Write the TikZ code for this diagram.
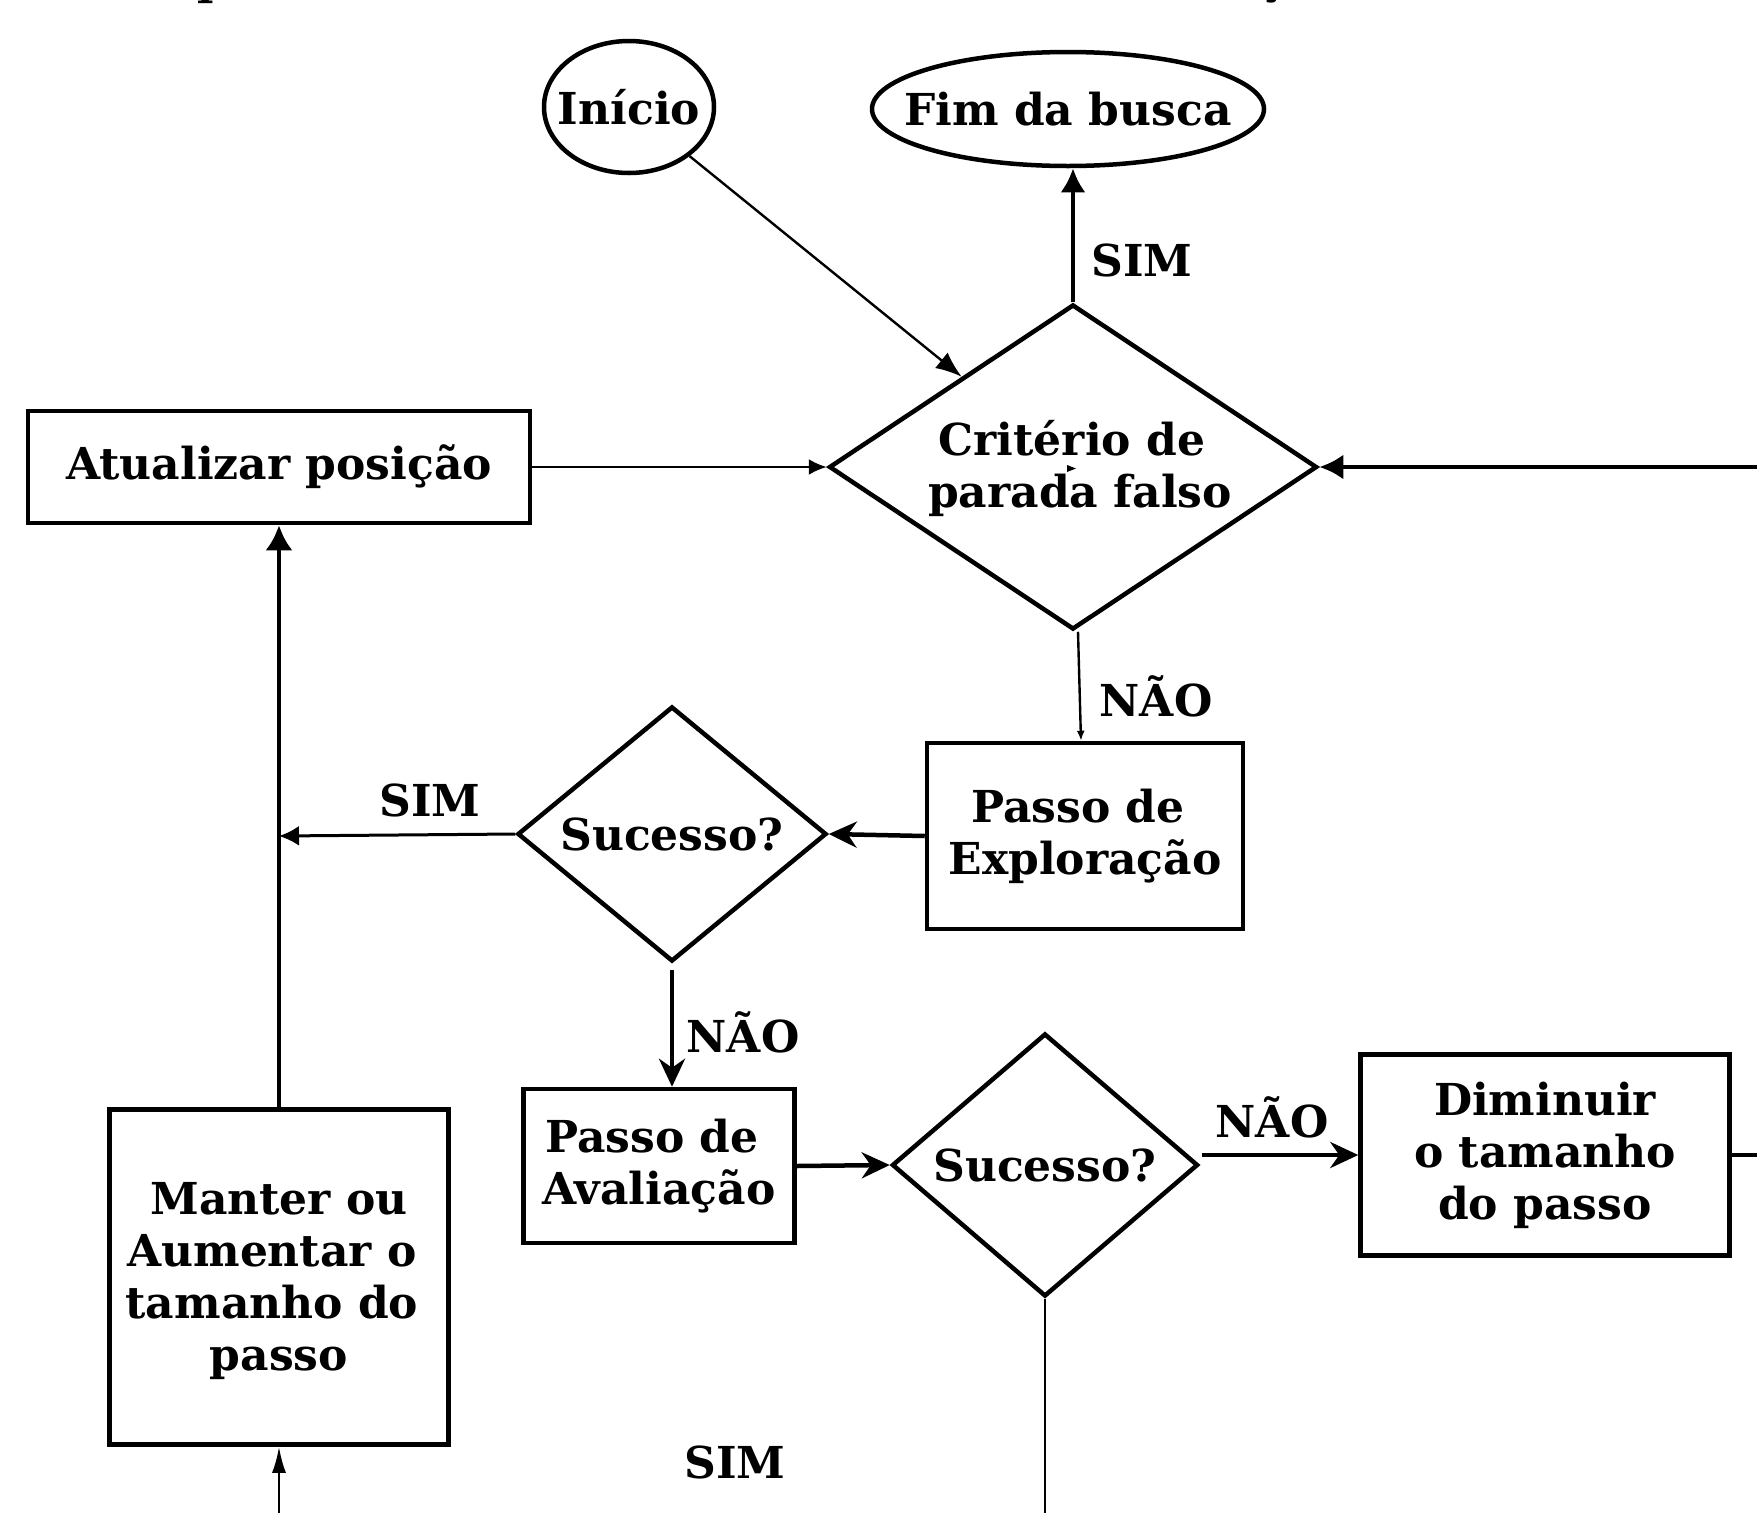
\documentclass[tikz,border=0pt]{standalone}
\usepackage{fontspec}
\setmainfont{DejaVu Serif}
\usetikzlibrary{shapes.geometric,arrows.meta}
\begin{document}
\begin{tikzpicture}[x=1pt,y=-1pt,
  every node/.style={font=\fontsize{44}{52}\selectfont\bfseries},
  txt/.style={inner sep=0pt, align=center},
  lbl/.style={inner sep=0pt},
  box/.style={draw, line width=4.5pt, rectangle, inner sep=0pt, align=center},
  dia/.style={draw, line width=4.5pt, diamond, inner sep=0pt},
  ell/.style={draw, line width=4.5pt, ellipse, inner sep=0pt},
  thk/.style={line width=4.5pt},
  med/.style={line width=3pt},
  thn/.style={line width=2.4pt},
  lat/.style={-{Latex[length=24pt,width=25pt]}},
  stl/.style={-{Stealth[length=28pt,width=26pt,inset=9pt]}}
]
\useasboundingbox (0,0) rectangle (1757,1513);
\clip (0,0) rectangle (1757,1513);

% cut-off title fragments
\node[anchor=base, inner sep=0pt] (tp) at (213,-6) {p};
\node[anchor=base, inner sep=0pt] (tc) at (1272,-6) {ç};

% terminals
\node[ell, minimum width=170pt, minimum height=132pt] (ini) at (629,107) {};
\node[txt] (init) at (ini) {Início};
\node[ell, minimum width=392pt, minimum height=114pt] (fim) at (1068,109) {};
\node[txt] (fimt) at (fim) {Fim da busca};

% decisions
\node[dia, minimum width=488pt, minimum height=325pt] (d0) at (1073,467) {};
\node[txt] (d0t) at (1080,468) {Critério de\hspace*{16pt}\\parada falso};
\node[dia, minimum width=309pt, minimum height=255pt] (s1) at (672,834) {};
\node[txt] (s1t) at (s1) {Sucesso?};
\node[dia, minimum width=306pt, minimum height=263pt] (s2) at (1045,1165) {};
\node[txt] (s2t) at (s2) {Sucesso?};

% processes
\node[box, minimum width=502pt, minimum height=112pt] (A) at (279,467) {Atualizar posição};
\node[box, minimum width=316pt, minimum height=186pt] (E) at (1085,836) {Passo de\hspace*{14pt}\\Exploração};
\node[box, minimum width=271pt, minimum height=154pt] (V) at (659,1166) {Passo de\hspace*{14pt}\\Avaliação};
\node[box, minimum width=369pt, minimum height=201pt] (Dm) at (1545,1155) {Diminuir\\o tamanho\\do passo};
\node[box, minimum width=339pt, minimum height=335pt] (M) at (279,1277) {};
\node[txt] (Mt) at (272,1281) {\hspace*{14pt}Manter ou\\Aumentar o\\tamanho do\\\hspace*{14pt}passo};

% free ends
\coordinate (rin) at (1757,467);
\coordinate (rout) at (1757,1155);
\coordinate (bot1) at (279,1513);
\coordinate (bot2) at (1045,1513);
\coordinate (j1) at (279,836);

% connectors
\draw[thn, -{Latex[length=26pt,width=20pt]}] (ini) -- (d0);
\draw[thk, lat] (d0.north) -- (d0.north |- fim.south);
\draw[thk, lat] (rin) -- (d0.east);
\draw[thn, -{Latex[length=18pt,width=16pt]}] (A.east) -- (d0.west);
\draw[thn, -{Latex[length=10pt,width=8pt]}] ([xshift=5pt]d0.south) -- ([xshift=-4pt]E.north);
\draw[thk, stl] (E.west) -- (s1.east);
\draw[med, -{Latex[length=20pt,width=20pt]}] (s1.west) -- (j1);
\draw[thk, -{Latex[length=25pt,width=27pt]}] (M.north) -- (A.south);
\draw[thk, stl] ([yshift=-6pt]s1.south) -- (s1.south |- V.north);
\draw[thk, stl] (V.east) -- (s2.west);
\draw[thk, stl] ([xshift=2pt]s2.east |- Dm.west) -- (Dm.west);
\draw[thk] (Dm.east) -- (rout);
\draw[thn] (s2.south) -- (bot2);
\draw[thn, -{Latex[length=26pt,width=14pt]}] (bot1) -- (M.south);

% stray tip in the main decision
\fill (1067,465) -- (1076,468.5) -- (1067,472) -- cycle;

% labels
\node[lbl] (l1) at (1142,260) {SIM};
\node[lbl] (l2) at (1156,696) {NÃO};
\node[lbl] (l3) at (430,800) {SIM};
\node[lbl] (l4) at (743,1032) {NÃO};
\node[lbl] (l5) at (1272,1117) {NÃO};
\node[lbl] (l6) at (735,1462) {SIM};
\end{tikzpicture}
\end{document}
